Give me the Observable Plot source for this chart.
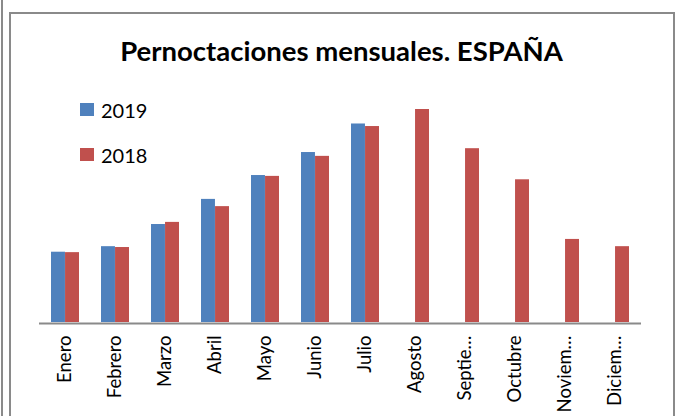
<!DOCTYPE html>
<html>
<head>
<meta charset="utf-8">
<script src="https://cdn.jsdelivr.net/npm/d3@7"></script>
<script src="https://cdn.jsdelivr.net/npm/@observablehq/plot@0.6"></script>
<style>
  html, body { margin: 0; padding: 0; background: #fff; }
  #wrap { position: relative; width: 675px; height: 416px; overflow: hidden; background: #fff; font-family: Lato, "Open Sans", sans-serif; }
  #wrap svg { position: absolute; left: 0; top: 0; }
  .line { position: absolute; background: #8a8a8a; }
  #title { position: absolute; left: 9px; width: 665px; top: 34px; text-align: center; font-weight: bold; font-size: 27.5px; color: #000; white-space: nowrap; }
  .leg { position: absolute; left: 80px; font-size: 20px; color: #000; line-height: 20px; }
  .leg span.sw { position: absolute; left: 0; top: 3px; width: 14px; height: 13px; }
  .leg span.tx { position: absolute; left: 21px; top: 0; white-space: nowrap; }
</style>
</head>
<body>
<div id="wrap">
  <div class="line" style="left:1px;top:0;width:2px;height:416px"></div>
  <div class="line" style="left:9px;top:12px;width:2px;height:404px"></div>
  <div class="line" style="left:9px;top:12px;width:666px;height:2px"></div>
  <div class="line" style="left:673px;top:12px;width:2px;height:404px"></div>
  <div id="title"></div>
  <div id="legend"></div>
</div>
<script>
const title = "Pernoctaciones mensuales. ESPAÑA";
const months = ["Enero","Febrero","Marzo","Abril","Mayo","Junio","Julio","Agosto","Septiembre","Octubre","Noviembre","Diciembre"];
const tickLabels = ["Enero","Febrero","Marzo","Abril","Mayo","Junio","Julio","Agosto","Septie…","Octubre","Noviem…","Diciem…"];
const series = ["2019", "2018"];
const colors = ["#4F81BD", "#C0504D"];
const values2019 = [16.5, 17.8, 23.0, 28.9, 34.5, 39.9, 46.6];
const values2018 = [16.4, 17.6, 23.5, 27.2, 34.3, 39.0, 46.0, 50.0, 40.8, 33.5, 19.5, 17.8];

const rows2019 = values2019.map((v, i) => ({month: months[i], year: "2019", value: v}));
const rows2018 = values2018.map((v, i) => ({month: months[i], year: "2018", value: v}));

const W = 675, H = 416, ML = 39, MR = 34, MT = 109, MB = 94;
const padIn = 0.44, padOut = 0.22;
const step = (W - ML - MR) / (months.length - padIn + 2 * padOut);
const half = step * (1 - padIn) / 2;

const labelOf = new Map(months.map((m, i) => [m, tickLabels[i]]));

const chart = Plot.plot({
  width: W, height: H,
  marginLeft: ML, marginRight: MR, marginTop: MT, marginBottom: MB,
  style: {fontFamily: "Lato, 'Open Sans', sans-serif", fontSize: "18.5px", color: "#000", background: "transparent"},
  x: {domain: months, paddingInner: padIn, paddingOuter: padOut, axis: null, label: null},
  y: {domain: [0, 50], axis: null},
  color: {domain: series, range: colors},
  marks: [
    Plot.barY(rows2019, {x: "month", y: "value", fill: "year", insetRight: half}),
    Plot.barY(rows2018, {x: "month", y: "value", fill: "year", insetLeft: half}),
    Plot.ruleY([0], {stroke: "#8a8a8a", strokeWidth: 2, dy: 1}),
    Plot.axisX({tickRotate: -90, tickSize: 0, tickPadding: 13, label: null, tickFormat: d => labelOf.get(d), fill: "#000", fontSize: 18.5})
  ]
});
document.getElementById("wrap").insertBefore(chart, document.getElementById("title"));
document.getElementById("title").textContent = title;

const legend = document.getElementById("legend");
const legendTops = [100, 145];
series.forEach((s, i) => {
  const d = document.createElement("div");
  d.className = "leg";
  d.style.top = legendTops[i] + "px";
  d.innerHTML = `<span class="sw" style="background:${colors[i]}"></span><span class="tx">${s}</span>`;
  legend.appendChild(d);
});
</script>
</body>
</html>
